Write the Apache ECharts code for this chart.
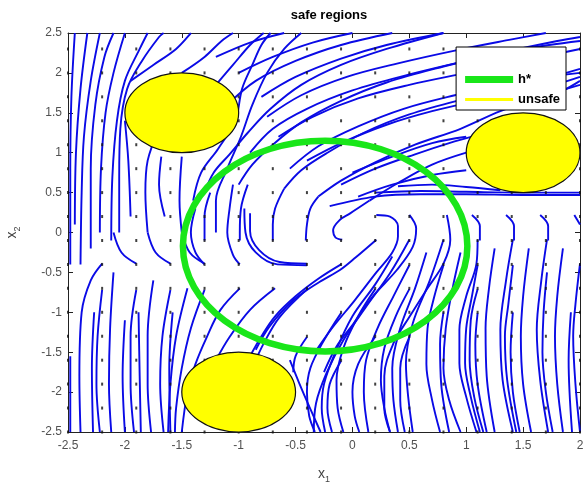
<!DOCTYPE html>
<html>
<head>
<meta charset="utf-8">
<script src="https://cdn.jsdelivr.net/npm/echarts@6/dist/echarts.min.js"></script>
<style>
  html, body { margin: 0; padding: 0; background: #fff; }
  #chart { width: 584px; height: 486px; }
</style>
</head>
<body>
<div id="chart"></div>
<script>
// axis ticks
var xTicks = [-2.5, 2];
var yTicks = [-2.5, 2.5];

// regions: [cx, cy, rx, ry] in data units
var safeSet = [[-0.24, -0.17, 1.25, 1.32]];
var unsafeRegions = [[-1.5, 1.5, 0.5, 0.5], [1.5, 1.0, 0.5, 0.5], [-1.0, -2.0, 0.5, 0.5]];

// quiver start grid
var gridX = [-2.5, -2.2, -1.9, -1.6, -1.3, -1.0, -0.7, -0.4, -0.1, 0.2, 0.5, 0.8, 1.1, 1.4, 1.7, 2.0];
var gridY = [-2.5, -2.2, -1.9, -1.6, -1.3, -1.0, -0.7, -0.4, -0.1, 0.2, 0.5, 0.8, 1.1, 1.4, 1.7, 2.0, 2.3];

// streamlines
var leftLines = [
  [[-2.48,-0.4],[-2.48,0.8],[-2.47,1.7],[-2.44,2.5]],
  [[-2.44,0.1],[-2.43,1.0],[-2.39,1.8],[-2.33,2.5]],
  [[-2.39,-0.4],[-2.38,0.5],[-2.36,1.2],[-2.3,1.9],[-2.22,2.5]],
  [[-2.3,-0.2],[-2.3,0.8],[-2.26,1.6],[-2.18,2.2],[-2.1,2.5]],
  [[-2.22,0.0],[-2.21,0.8],[-2.17,1.5],[-2.1,2.0],[-2.0,2.5]],
  [[-2.12,-0.1],[-2.11,0.7],[-2.07,1.4],[-2.0,1.9],[-1.87,2.3],[-1.8,2.5]],
  [[-2.05,0.0],[-2.05,0.7],[-2.04,1.3],[-1.98,1.8],[-1.85,2.15],[-1.7,2.45],[-1.66,2.5]],
  [[-1.95,0.2],[-1.97,0.9],[-2.0,1.4]],
  [[-1.8,0.0],[-1.82,0.5],[-1.8,0.9],[-1.7,1.3]],
  [[-1.65,0.2],[-1.7,0.6],[-1.68,0.95]],
  [[-1.95,1.9],[-1.75,2.1],[-1.55,2.3],[-1.42,2.5]],
  [[-1.5,2.0],[-1.3,2.2],[-1.15,2.4],[-1.05,2.5]],
  [[-1.2,1.85],[-1.05,2.1],[-0.9,2.35],[-0.78,2.5]],
  [[-1.5,0.0],[-1.52,0.4],[-1.5,0.95]],
  [[-1.2,0.0],[-1.2,0.4],[-1.1,0.8],[-0.98,1.2],[-0.88,1.6],[-0.75,2.0],[-0.6,2.3],[-0.45,2.5]],
  [[-1.4,0.4],[-1.33,0.75],[-1.18,1.05],[-1.03,1.4],[-0.97,1.8],[-0.88,2.1],[-0.8,2.35],[-0.72,2.5]],
  [[-2.48,-1.55],[-2.48,-2.0],[-2.48,-2.5]],
  [[-2.2,-0.39],[-2.3,-0.6],[-2.38,-1.0],[-2.4,-1.8],[-2.39,-2.5]],
  [[-2.2,-0.72],[-2.24,-1.3],[-2.25,-1.9],[-2.22,-2.5]],
  [[-2.27,-1.0],[-2.29,-1.7],[-2.28,-2.5]],
  [[-2.1,-0.5],[-2.13,-1.2],[-2.14,-1.9],[-2.12,-2.5]],
  [[-1.9,-0.72],[-1.95,-1.3],[-1.95,-1.9],[-1.92,-2.5]],
  [[-2.0,-1.1],[-2.02,-1.8],[-2.0,-2.5]],
  [[-1.88,-1.0],[-1.87,-1.8],[-1.86,-2.5]],
  [[-1.75,-0.6],[-1.8,-1.3],[-1.8,-1.9],[-1.77,-2.5]],
  [[-1.6,-0.72],[-1.67,-1.3],[-1.69,-1.9],[-1.66,-2.5]],
  [[-1.58,-1.0],[-1.61,-1.7],[-1.6,-2.5]],
  [[-1.45,-0.7],[-1.55,-1.3],[-1.6,-1.9],[-1.62,-2.5]],
  [[-1.3,-0.72],[-1.42,-1.2],[-1.5,-1.7],[-1.55,-2.2],[-1.56,-2.5]],
  [[-2.1,0.0],[-2.03,-0.25],[-1.9,-0.39]],
  [[-1.8,0.0],[-1.73,-0.25],[-1.6,-0.39]],
  [[-1.5,0.0],[-1.43,-0.25],[-1.3,-0.39]]
];

var topLines = [
  [[-1.3,0.5],[-1.22,0.75],[-1.08,0.98],[-0.92,1.25],[-0.72,1.55],[-0.45,1.85],[-0.1,2.1],[0.3,2.3],[0.8,2.5]],
  [[-1.0,0.6],[-0.88,0.85],[-0.7,1.1],[-0.45,1.38],[-0.1,1.65],[0.3,1.88],[0.8,2.08],[1.3,2.25],[1.8,2.4],[2.0,2.45]],
  [[-0.6,0.55],[-0.45,0.78],[-0.22,1.0],[0.1,1.25],[0.5,1.48],[1.0,1.68],[1.5,1.85],[2.0,2.05]],
  [[-0.3,0.45],[-0.1,0.65],[0.2,0.88],[0.55,1.1],[0.95,1.3],[1.3,1.52],[1.7,1.72],[2.0,1.85]],
  [[0.15,0.4],[0.4,0.62],[0.7,0.85],[1.0,1.0]],
  [[-1.2,2.2],[-0.9,2.38],[-0.6,2.5]],
  [[-1.0,2.0],[-0.7,2.2],[-0.35,2.38],[0.0,2.5]],
  [[-1.1,1.6],[-0.85,1.9],[-0.5,2.15],[-0.1,2.35],[0.35,2.5]],
  [[-0.8,1.7],[-0.5,1.95],[-0.1,2.18],[0.3,2.35],[0.8,2.5]],
  [[-0.75,1.45],[-0.45,1.72],[-0.05,1.95],[0.4,2.12],[0.9,2.28],[1.4,2.42],[1.7,2.5]],
  [[-0.9,1.0],[-0.7,1.3],[-0.4,1.55],[0.0,1.78],[0.5,1.98],[1.0,2.15],[1.5,2.3],[2.0,2.4]],
  [[-0.65,1.2],[-0.35,1.45],[0.05,1.68],[0.5,1.85],[1.0,2.0],[1.5,2.15],[2.0,2.3]],
  [[-0.55,0.8],[-0.3,1.08],[0.05,1.33],[0.45,1.55],[0.9,1.72],[1.4,1.88],[2.0,2.0]],
  [[-0.4,0.9],[-0.1,1.12],[0.3,1.35],[0.7,1.52],[1.1,1.65],[1.6,1.78],[2.0,1.95]],
  [[-0.1,0.6],[0.2,0.8],[0.55,0.98],[0.85,1.12],[1.1,1.22]],
  [[0.0,0.75],[0.35,0.95],[0.7,1.12],[1.0,1.2]],
  [[0.05,0.45],[0.35,0.6],[0.7,0.72],[1.0,0.78]],
  [[0.2,0.5],[0.6,0.52],[1.0,0.51],[1.5,0.5],[2.0,0.5]],
  [[-0.2,0.33],[0.2,0.45],[0.6,0.48],[1.0,0.48],[1.5,0.47],[2.0,0.47]],
  [[0.4,0.58],[0.7,0.6],[1.0,0.57],[1.3,0.53]],
  [[1.6,1.65],[1.85,1.78],[2.0,1.9]]
];

var centerLines = [
  [[0.15,0.4],[-0.02,0.24],[-0.11,0.16],[-0.17,0.03],[-0.15,-0.06],[-0.09,-0.09]],
  [[-0.9,0.24],[-0.9,0.02],[-0.82,-0.22],[-0.64,-0.37],[-0.4,-0.39]],
  [[-0.95,0.3],[-0.94,0.0],[-0.85,-0.25],[-0.66,-0.4],[-0.4,-0.41]],
  [[-0.6,0.55],[-0.68,0.3],[-0.7,0.1],[-0.7,-0.1]],
  [[-0.3,0.45],[-0.37,0.3],[-0.4,0.1],[-0.41,-0.1]],
  [[-0.92,0.6],[-0.98,0.3],[-0.99,0.0],[-0.99,-0.1]],
  [[-1.05,0.6],[-1.08,0.3],[-1.1,0.0],[-1.05,-0.28],[-0.99,-0.4]],
  [[-1.25,0.5],[-1.3,0.2],[-1.3,-0.1]],
  [[-1.38,0.3],[-1.42,0.0],[-1.38,-0.25],[-1.3,-0.4]],
  [[0.21,0.22],[0.33,0.2],[0.4,0.08],[0.4,-0.05],[0.35,-0.25],[0.21,-0.5],[0.02,-0.85],[-0.18,-1.2],[-0.33,-1.5]],
  [[0.5,0.22],[0.56,0.05],[0.53,-0.18],[0.39,-0.47],[0.18,-0.8],[0.01,-1.14],[-0.14,-1.43],[-0.25,-1.75]],
  [[0.21,-0.09],[0.03,-0.31],[-0.11,-0.47],[-0.29,-0.62],[-0.52,-0.85],[-0.73,-1.18],[-0.85,-1.47]],
  [[-0.1,-0.4],[-0.3,-0.58],[-0.5,-0.8],[-0.68,-1.05],[-0.8,-1.3],[-0.9,-1.55]],
  [[0.83,0.22],[0.86,-0.09],[0.8,-0.39],[0.65,-0.72],[0.5,-1.06],[0.36,-1.39],[0.28,-1.8],[0.28,-2.2],[0.33,-2.5]],
  [[-0.68,-0.7],[-0.9,-0.97],[-1.08,-1.31],[-1.2,-1.6]],
  [[-0.99,-0.7],[-1.16,-0.97],[-1.28,-1.31],[-1.38,-1.65],[-1.45,-2.0],[-1.5,-2.5]],
  [[-0.39,-0.7],[-0.64,-1.06],[-0.78,-1.39],[-0.88,-1.7]]
];

var rightLines = [
  [[1.05,0.22],[1.12,0.08],[1.12,-0.1]],
  [[1.35,0.22],[1.42,0.08],[1.42,-0.1]],
  [[1.65,0.22],[1.72,0.08],[1.72,-0.1]],
  [[1.95,0.22],[2.0,0.1]],
  [[1.1,-0.09],[1.09,-0.39],[1.0,-0.8],[0.94,-1.22],[0.94,-1.64],[1.0,-2.06],[1.09,-2.5]],
  [[1.1,-0.41],[1.05,-0.8],[1.0,-1.2],[0.99,-1.64],[1.04,-2.06],[1.12,-2.5]],
  [[1.1,-0.71],[1.04,-1.1],[1.03,-1.6],[1.07,-2.06],[1.15,-2.5]],
  [[1.1,-1.01],[1.08,-1.4],[1.1,-1.9],[1.18,-2.5]],
  [[1.25,-0.2],[1.2,-0.7],[1.17,-1.2],[1.18,-1.8],[1.25,-2.5]],
  [[1.41,-0.09],[1.35,-0.6],[1.3,-1.22],[1.32,-1.85],[1.41,-2.5]],
  [[1.41,-0.41],[1.37,-0.9],[1.34,-1.3],[1.36,-1.85],[1.44,-2.5]],
  [[1.41,-1.0],[1.39,-1.5],[1.41,-2.0],[1.47,-2.5]],
  [[1.55,-0.2],[1.5,-0.8],[1.48,-1.3],[1.5,-1.9],[1.57,-2.5]],
  [[1.71,-0.09],[1.66,-0.6],[1.62,-1.22],[1.65,-1.85],[1.72,-2.5]],
  [[1.71,-0.5],[1.68,-1.0],[1.67,-1.5],[1.7,-2.0],[1.76,-2.5]],
  [[1.85,-0.2],[1.8,-0.8],[1.78,-1.3],[1.8,-1.9],[1.85,-2.5]],
  [[2.0,-0.39],[1.96,-0.9],[1.94,-1.3],[1.96,-1.9],[2.0,-2.5]],
  [[1.92,-1.0],[1.9,-1.6],[1.93,-2.5]],
  [[0.95,-0.25],[0.88,-0.7],[0.82,-1.2],[0.8,-1.7],[0.85,-2.1],[0.95,-2.5]],
  [[0.8,-0.41],[0.72,-0.8],[0.66,-1.2],[0.65,-1.65],[0.7,-2.1],[0.77,-2.5]],
  [[0.8,-1.0],[0.77,-1.4],[0.78,-1.9],[0.85,-2.5]]
];

var bottomLines = [
  [[0.5,-0.09],[0.33,-0.51],[0.12,-0.93],[-0.08,-1.35],[-0.23,-1.77],[-0.32,-2.14],[-0.34,-2.5]],
  [[0.35,-0.3],[0.2,-0.65],[0.0,-1.05],[-0.15,-1.5],[-0.25,-1.9],[-0.27,-2.2],[-0.24,-2.5]],
  [[0.8,-0.09],[0.68,-0.6],[0.53,-1.14],[0.47,-1.64],[0.49,-2.06],[0.53,-2.5]],
  [[0.65,-0.25],[0.55,-0.7],[0.42,-1.2],[0.35,-1.7],[0.36,-2.1],[0.4,-2.5]],
  [[0.5,-0.41],[0.36,-0.8],[0.22,-1.2],[0.12,-1.6],[0.1,-2.0],[0.14,-2.5]],
  [[0.2,-0.71],[0.05,-1.05],[-0.08,-1.45],[-0.14,-1.85],[-0.13,-2.2],[-0.08,-2.5]],
  [[0.5,-0.71],[0.38,-1.05],[0.28,-1.45],[0.25,-1.85],[0.28,-2.2],[0.33,-2.5]],
  [[-0.1,-1.01],[-0.25,-1.35],[-0.37,-1.7],[-0.4,-2.0],[-0.38,-2.3],[-0.33,-2.5]],
  [[0.2,-1.31],[0.05,-1.65],[0.0,-2.0],[0.02,-2.3],[0.06,-2.5]],
  [[-0.4,-1.31],[-0.5,-1.55],[-0.52,-1.75]],
  [[-0.55,-1.6],[-0.47,-1.88],[-0.38,-2.18],[-0.28,-2.5]],
  [[0.5,-1.31],[0.42,-1.7],[0.42,-2.1],[0.46,-2.5]],
  [[-0.1,-1.61],[-0.2,-1.9],[-0.22,-2.2],[-0.18,-2.5]]
];

var myChart = echarts.init(document.getElementById('chart'));

var labelFont = 'Liberation Sans, Arial, sans-serif';
var series = [];
var allLines = leftLines.concat(topLines, centerLines, rightLines, bottomLines);
for (var i = 0; i < allLines.length; i++) {
  series.push({
    type: 'line',
    data: allLines[i],
    smooth: 0.35,
    symbol: 'none',
    silent: true,
    z: 1,
    lineStyle: { color: '#0a0ae6', width: 1.9 }
  });
}

var dots = [];
for (var a = 0; a < gridX.length; a++) {
  for (var b = 0; b < gridY.length; b++) {
    dots.push([gridX[a], gridY[b]]);
  }
}
series.push({
  type: 'scatter',
  data: dots,
  symbol: 'rect',
  symbolSize: [2, 3],
  silent: true,
  z: 2,
  itemStyle: { color: '#111' }
});

function ellipseRender(fill, stroke, width) {
  return function (params, api) {
    var c = api.coord([api.value(0), api.value(1)]);
    var s = api.size([api.value(2), api.value(3)]);
    return {
      type: 'ellipse',
      shape: { cx: c[0], cy: c[1], rx: s[0], ry: s[1] },
      style: { fill: fill, stroke: stroke, lineWidth: width }
    };
  };
}

series.push({
  type: 'custom',
  name: 'h*',
  data: safeSet,
  clip: true,
  z: 5,
  itemStyle: { color: '#19e619' },
  renderItem: ellipseRender('none', '#19e619', 6.5)
});
series.push({
  type: 'custom',
  name: 'unsafe',
  data: unsafeRegions,
  clip: true,
  z: 6,
  itemStyle: { color: '#ffff00' },
  renderItem: ellipseRender('#ffff00', '#111', 1.2)
});

var option = {
  animation: false,
  backgroundColor: '#fff',
  title: {
    text: 'safe regions',
    left: 324,
    top: 4,
    textAlign: 'center',
    textStyle: { fontSize: 13, fontWeight: 'bold', color: '#000', fontFamily: labelFont }
  },
  legend: {
    orient: 'vertical',
    right: 18,
    top: 47,
    backgroundColor: '#fff',
    borderColor: '#000',
    borderWidth: 1,
    padding: [26, 6, 4, 9],
    itemGap: 7,
    itemWidth: 48,
    itemHeight: 14,
    selectedMode: false,
    textStyle: { fontSize: 13, fontWeight: 'bold', color: '#000', fontFamily: labelFont },
    data: [
      { name: 'h*', icon: 'path://M0,0L48,0L48,7L0,7Z', itemStyle: { color: '#19e619', borderWidth: 0 } },
      { name: 'unsafe', icon: 'path://M0,0L48,0L48,3L0,3Z', itemStyle: { color: '#ffff00', borderWidth: 0 } }
    ]
  },
  grid: { left: 68, right: 4, top: 33, bottom: 54, outerBoundsMode: 'none' },
  xAxis: [
    {
      type: 'value', min: xTicks[0], max: xTicks[1], interval: 0.5,
      name: '{a|x}{b|1}', nameLocation: 'middle', nameGap: 33,
      nameTextStyle: {
        rich: {
          a: { fontSize: 14, color: '#444', fontFamily: labelFont },
          b: { fontSize: 9, color: '#444', fontFamily: labelFont, padding: [10, 0, 0, 0] }
        }
      },
      axisLine: { onZero: false, lineStyle: { color: '#222' } },
      axisTick: { inside: true, length: 5, lineStyle: { color: '#222' } },
      axisLabel: { margin: 8, color: '#505050', fontSize: 12, fontFamily: labelFont },
      splitLine: { show: false }
    },
    {
      type: 'value', position: 'top', min: xTicks[0], max: xTicks[1], interval: 0.5,
      axisLine: { onZero: false, lineStyle: { color: '#222' } },
      axisTick: { inside: true, length: 5, lineStyle: { color: '#222' } },
      axisLabel: { show: false },
      splitLine: { show: false }
    }
  ],
  yAxis: [
    {
      type: 'value', min: yTicks[0], max: yTicks[1], interval: 0.5,
      name: '{a|x}{b|2}', nameLocation: 'middle', nameGap: 46, nameRotate: 90,
      nameTextStyle: {
        rich: {
          a: { fontSize: 14, color: '#444', fontFamily: labelFont },
          b: { fontSize: 9, color: '#444', fontFamily: labelFont, padding: [10, 0, 0, 0] }
        }
      },
      axisLine: { onZero: false, lineStyle: { color: '#222' } },
      axisTick: { inside: true, length: 5, lineStyle: { color: '#222' } },
      axisLabel: { margin: 6, color: '#505050', fontSize: 12, fontFamily: labelFont },
      splitLine: { show: false }
    },
    {
      type: 'value', position: 'right', min: yTicks[0], max: yTicks[1], interval: 0.5,
      axisLine: { onZero: false, lineStyle: { color: '#222' } },
      axisTick: { inside: true, length: 5, lineStyle: { color: '#222' } },
      axisLabel: { show: false },
      splitLine: { show: false }
    }
  ],
  series: series
};

myChart.setOption(option);
</script>
</body>
</html>
